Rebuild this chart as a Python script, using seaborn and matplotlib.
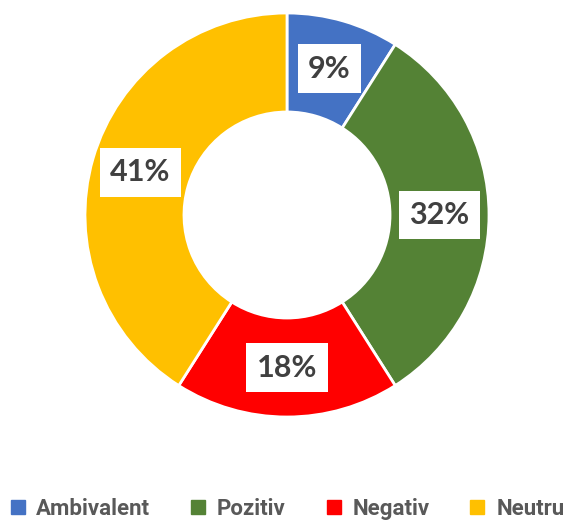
import matplotlib
matplotlib.use("Agg")
import matplotlib.pyplot as plt
import seaborn as sns
from matplotlib.lines import Line2D

# data
categories = ["Ambivalent", "Pozitiv", "Negativ", "Neutru"]
shares = [9, 32, 18, 41]
colors = ["#4472C4", "#548235", "#FF0000", "#FFC000"]


def main():
    sns.set_theme(style="white")
    plt.rcParams["font.family"] = ["Lato", "DejaVu Sans"]

    fig = plt.figure(figsize=(5.73, 5.25), dpi=100)
    fig.patch.set_facecolor("white")

    # donut: center ~ (287, 215) px, outer radius ~202 px
    ax = fig.add_axes([85 / 573, 108 / 525, 404 / 573, 404 / 525])
    wedges, texts, autotexts = ax.pie(
        shares,
        colors=colors,
        startangle=90,
        counterclock=False,
        radius=1.0,
        autopct="%d%%",
        pctdistance=0.755,
        wedgeprops=dict(width=0.49, edgecolor="white", linewidth=2),
    )
    for t in autotexts:
        t.set_fontsize(22)
        t.set_fontweight("bold")
        t.set_color("#404040")
        t.set_bbox(dict(boxstyle="square,pad=0.34", facecolor="white", edgecolor="none"))
    ax.set_xlim(-1.0, 1.0)
    ax.set_ylim(-1.0, 1.0)
    ax.axis("off")

    # legend along the bottom
    handles = [
        Line2D([0], [0], marker="s", linestyle="none", markersize=9.5,
               markerfacecolor=c, markeredgecolor=c)
        for c in colors
    ]
    leg = fig.legend(
        handles, categories,
        loc="center", bbox_to_anchor=(0.5, 1 - 509 / 525),
        ncol=4, frameon=False,
        handlelength=0.8, handletextpad=0.45, columnspacing=1.75,
        prop=dict(family=["Roboto", "DejaVu Sans"], weight="bold", size=16),
    )
    for t in leg.get_texts():
        t.set_color("#595959")

    fig.savefig("out.png", dpi=100)


if __name__ == "__main__":
    main()
